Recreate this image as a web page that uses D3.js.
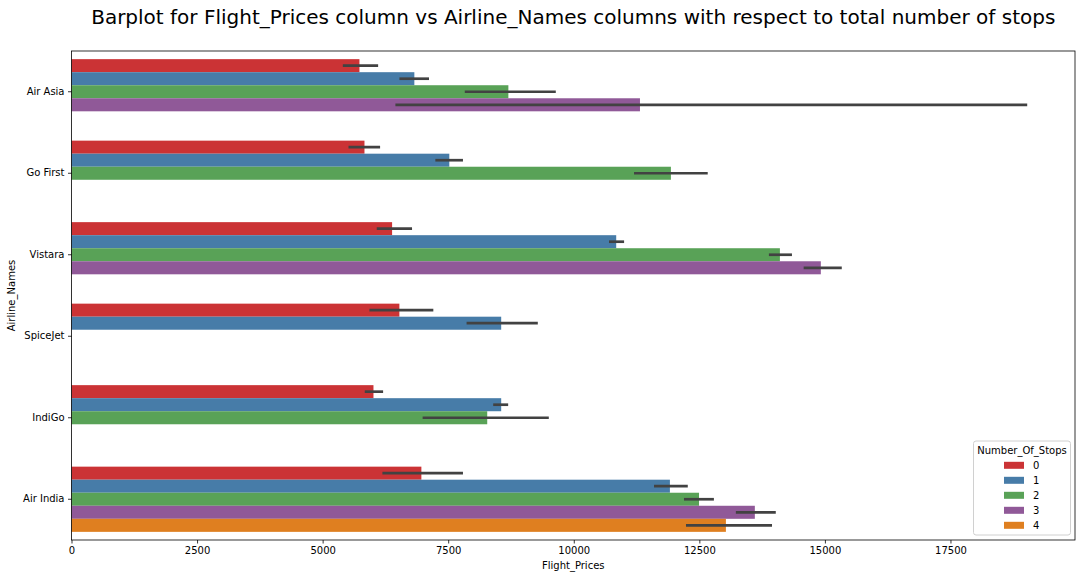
<!DOCTYPE html>
<html>
<head>
<meta charset="utf-8">
<script src="https://cdn.jsdelivr.net/npm/d3@7"></script>
<style>
  body { margin: 0; background: #fff; }
  text { font-family: "DejaVu Sans", sans-serif; }
</style>
</head>
<body>
<svg id="chart" width="1082" height="579"></svg>
<script>
// ---- data ----
const airlines = ["Air Asia", "Go First", "Vistara", "SpiceJet", "IndiGo", "Air India"];
const stops = ["0", "1", "2", "3", "4"];
// mean Flight_Prices per airline for each number of stops (null = no data)
const stop0 = [5733, 5833, 6383, 6528, 6012, 6966];
const stop1 = [6826, 7522, 10845, 8555, 8555, 11914];
const stop2 = [8698, 11934, 14104, null, 8277, 12494];
const stop3 = [11318, null, 14919, null, null, 13605];
const stop4 = [null, null, null, null, null, 13029];
// confidence interval bounds
const low0 = [5402, 5515, 6077, 5932, 5839, 6190];
const high0 = [6105, 6144, 6780, 7204, 6204, 7794];
const low1 = [6529, 7244, 10702, 7866, 8396, 11598];
const high1 = [7118, 7794, 11002, 9284, 8694, 12270];
const low2 = [7830, 11200, 13885, null, 6991, 12194];
const high2 = [9642, 12667, 14344, null, 9503, 12790];
const low3 = [6449, null, 14577, null, null, 13227];
const high3 = [19028, null, 15336, null, null, 14022];
const low4 = [null, null, null, null, null, 12234];
const high4 = [null, null, null, null, null, 13947];
const xTicks = [0, 2500, 5000, 7500, 10000, 12500, 15000, 17500];

const values = [stop0, stop1, stop2, stop3, stop4];
const lows = [low0, low1, low2, low3, low4];
const highs = [high0, high1, high2, high3, high4];
const colors = ["#cb3335", "#477ca8", "#59a257", "#905998", "#df7f20"];

const records = [];
airlines.forEach((a, i) => {
  stops.forEach((s, j) => {
    if (values[j][i] != null) {
      records.push({ airline: a, stop: s, value: values[j][i], lo: lows[j][i], hi: highs[j][i], color: colors[j] });
    }
  });
});

// ---- layout ----
const mLeft = 71.5, mRight = 1075, mTop = 51, mBottom = 540;
const svg = d3.select("#chart");

const maxHi = d3.max(records, d => d.hi);
const x = d3.scaleLinear().domain([0, maxHi * 1.05]).range([mLeft, mRight]);
const y = d3.scaleBand().domain(airlines).range([mTop, mBottom]).paddingInner(0.2).paddingOuter(0.1);
const yHue = d3.scaleBand().domain(stops).range([0, y.bandwidth()]);

// bars
svg.append("g").selectAll("rect").data(records).join("rect")
  .attr("x", x(0))
  .attr("y", d => y(d.airline) + yHue(d.stop))
  .attr("width", d => x(d.value) - x(0))
  .attr("height", yHue.bandwidth())
  .attr("fill", d => d.color);

// error bars
svg.append("g").selectAll("line").data(records).join("line")
  .attr("x1", d => x(d.lo))
  .attr("x2", d => x(d.hi))
  .attr("y1", d => y(d.airline) + yHue(d.stop) + yHue.bandwidth() / 2)
  .attr("y2", d => y(d.airline) + yHue(d.stop) + yHue.bandwidth() / 2)
  .attr("stroke", "#424242")
  .attr("stroke-width", 2.7);

// axes
const xAxis = svg.append("g").attr("transform", `translate(0,${mBottom})`)
  .call(d3.axisBottom(x).tickValues(xTicks).tickSize(3.5).tickPadding(3.5).tickFormat(d3.format("d")));
const yAxis = svg.append("g").attr("transform", `translate(${mLeft},0)`)
  .call(d3.axisLeft(y).tickSize(3.5).tickPadding(3.5));
[xAxis, yAxis].forEach(g => {
  g.select(".domain").remove();
  g.selectAll("text").attr("font-size", 10).attr("fill", "#000").attr("font-family", "DejaVu Sans, sans-serif");
  g.selectAll("line").attr("stroke", "#000").attr("stroke-width", 0.8);
});

// spines
svg.append("rect").attr("x", mLeft).attr("y", mTop).attr("width", mRight - mLeft).attr("height", mBottom - mTop)
  .attr("fill", "none").attr("stroke", "#000").attr("stroke-width", 0.8);

// labels
svg.append("text").attr("x", (mLeft + mRight) / 2).attr("y", 24).attr("text-anchor", "middle")
  .attr("font-size", 20).text("Barplot for Flight_Prices column vs Airline_Names columns with respect to total number of stops");
svg.append("text").attr("x", (mLeft + mRight) / 2).attr("y", 569).attr("text-anchor", "middle")
  .attr("font-size", 10).text("Flight_Prices");
svg.append("text").attr("transform", `translate(15,${(mTop + mBottom) / 2}) rotate(-90)`).attr("text-anchor", "middle")
  .attr("font-size", 10).text("Airline_Names");

// legend
const lg = svg.append("g");
lg.append("rect").attr("x", 973.5).attr("y", 441).attr("width", 97).attr("height", 94).attr("rx", 2.5)
  .attr("fill", "#fff").attr("fill-opacity", 0.8).attr("stroke", "#d0d0d0").attr("stroke-width", 1);
lg.append("text").attr("x", 1022).attr("y", 453.5).attr("text-anchor", "middle").attr("font-size", 10).text("Number_Of_Stops");
stops.forEach((s, j) => {
  const cy = 465.3 + j * 15;
  lg.append("rect").attr("x", 1004).attr("y", cy - 3.5).attr("width", 20).attr("height", 7).attr("fill", colors[j]);
  lg.append("text").attr("x", 1033).attr("y", cy + 3.5).attr("font-size", 10).text(s);
});
</script>
</body>
</html>
